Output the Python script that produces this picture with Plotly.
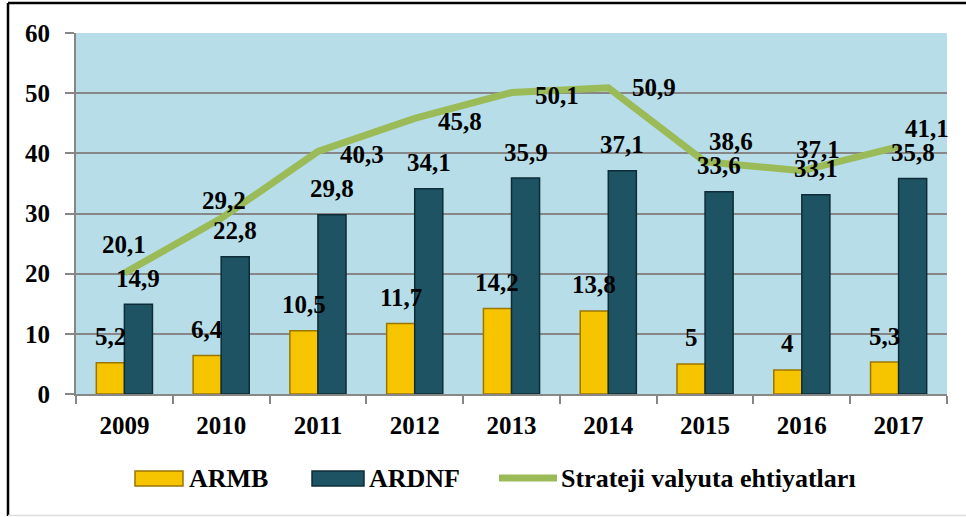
import plotly.graph_objects as go

# ---- data ----
years = ["2009", "2010", "2011", "2012", "2013", "2014", "2015", "2016", "2017"]
armb = [5.2, 6.4, 10.5, 11.7, 14.2, 13.8, 5, 4, 5.3]
ardnf = [14.9, 22.8, 29.8, 34.1, 35.9, 37.1, 33.6, 33.1, 35.8]
strategic = [20.1, 29.2, 40.3, 45.8, 50.1, 50.9, 38.6, 37.1, 41.1]
series_names = ["ARMB", "ARDNF", "Strateji valyuta ehtiyatları"]

# label offsets (pixels) for line labels, relative to the point
line_dx = [0, 3, 44, 45, 45, 46, 26, 16, 28]
line_dy = [29, 18, -3, -3, -3, 0, 20, 21, 18]

W, H = 966, 517
ML, MR, MT, MB = 76, 19, 33, 123
PW, PH = W - ML - MR, H - MT - MB

def px_x(p):
    return (p - ML) / PW

def px_y(p):
    return (H - MB - p) / PH

def fmt(v):
    return ("%g" % v).replace(".", ",")

FONT = "Liberation Serif, Times New Roman, serif"
YEL, YEL_L = "#F7C400", "#9A7600"
TEAL, TEAL_L = "#1E5364", "#0E2C36"
GREEN = "#9BBB59"
GRID = "#878787"

fig = go.Figure()
fig.add_trace(go.Bar(x=years, y=armb, name=series_names[0],
                     marker=dict(color=YEL, line=dict(color=YEL_L, width=1.5))))
fig.add_trace(go.Bar(x=years, y=ardnf, name=series_names[1],
                     marker=dict(color=TEAL, line=dict(color=TEAL_L, width=1.5))))
fig.add_trace(go.Scatter(x=years, y=strategic, name=series_names[2], mode="lines",
                         line=dict(color=GREEN, width=7)))

lab_font = dict(family=FONT, size=25, color="black", weight="bold")
ann = []
half = PW / len(years) * 0.58 / 4  # quarter of group width -> bar centre offset
for i, yr in enumerate(years):
    ann.append(dict(x=i, y=armb[i], xref="x", yref="y", text=fmt(armb[i]), showarrow=False,
                    xshift=-half, yshift=26, font=dict(lab_font)))
    ann.append(dict(x=i, y=ardnf[i], xref="x", yref="y", text=fmt(ardnf[i]), showarrow=False,
                    xshift=half, yshift=26, font=dict(lab_font)))
    ann.append(dict(x=i, y=strategic[i], xref="x", yref="y", text=fmt(strategic[i]), showarrow=False,
                    xshift=line_dx[i], yshift=line_dy[i], font=dict(lab_font)))

# custom legend
leg_font = dict(family=FONT, size=26, color="black", weight="bold")
leg_y = 478
shapes = []
shapes.append(dict(type="rect", xref="paper", yref="paper", x0=px_x(135), x1=px_x(183),
                   y0=px_y(486), y1=px_y(471), fillcolor=YEL, line=dict(color=YEL_L, width=1.5)))
shapes.append(dict(type="rect", xref="paper", yref="paper", x0=px_x(312), x1=px_x(364),
                   y0=px_y(486), y1=px_y(471), fillcolor=TEAL, line=dict(color=TEAL_L, width=1.5)))
shapes.append(dict(type="line", xref="paper", yref="paper", x0=px_x(499), x1=px_x(557),
                   y0=px_y(leg_y), y1=px_y(leg_y), line=dict(color=GREEN, width=7)))
for name, xp in zip(series_names, [187, 367, 559]):
    ann.append(dict(x=px_x(xp), y=px_y(leg_y), xref="paper", yref="paper", text=name,
                    showarrow=False, xanchor="left", yanchor="middle", font=dict(leg_font)))

# outer border
shapes.append(dict(type="line", xref="paper", yref="paper", x0=px_x(8), x1=px_x(8),
                   y0=px_y(3), y1=px_y(516), line=dict(color="black", width=2.5)))
shapes.append(dict(type="line", xref="paper", yref="paper", x0=px_x(8), x1=px_x(970),
                   y0=px_y(3), y1=px_y(3), line=dict(color="black", width=2.5)))
shapes.append(dict(type="line", xref="paper", yref="paper", x0=px_x(8), x1=px_x(970),
                   y0=px_y(515.5), y1=px_y(515.5), line=dict(color="#DDDDDD", width=1.5)))

fig.update_layout(
    width=W, height=H,
    margin=dict(l=ML, r=MR, t=MT, b=MB, pad=0),
    paper_bgcolor="white", plot_bgcolor="#B7DEE8",
    barmode="group", bargap=0.42, bargroupgap=0,
    showlegend=False,
    annotations=ann, shapes=shapes,
    font=dict(family=FONT, color="black"),
    xaxis=dict(type="category", categoryorder="array", categoryarray=years,
               range=[-0.5, len(years) - 0.5], tickson="boundaries", ticks="outside", ticklen=8,
               tickcolor=GRID, tickwidth=2, showline=True, linecolor=GRID, linewidth=2,
               showgrid=False, tickangle=0, ticklabelstandoff=8,
               tickfont=dict(family=FONT, size=25, color="black", weight="bold")),
    yaxis=dict(range=[0, 60], dtick=10, ticks="outside", ticklen=9, tickcolor=GRID, tickwidth=2,
               showline=True, linecolor=GRID, linewidth=2, showgrid=True, gridcolor=GRID,
               gridwidth=2, zeroline=False, ticklabelstandoff=10,
               tickfont=dict(family=FONT, size=25, color="black", weight="bold")),
)

fig.write_html("out.html", config={"displayModeBar": False},
               post_script="document.body.style.margin='0';document.body.style.overflow='hidden';")
